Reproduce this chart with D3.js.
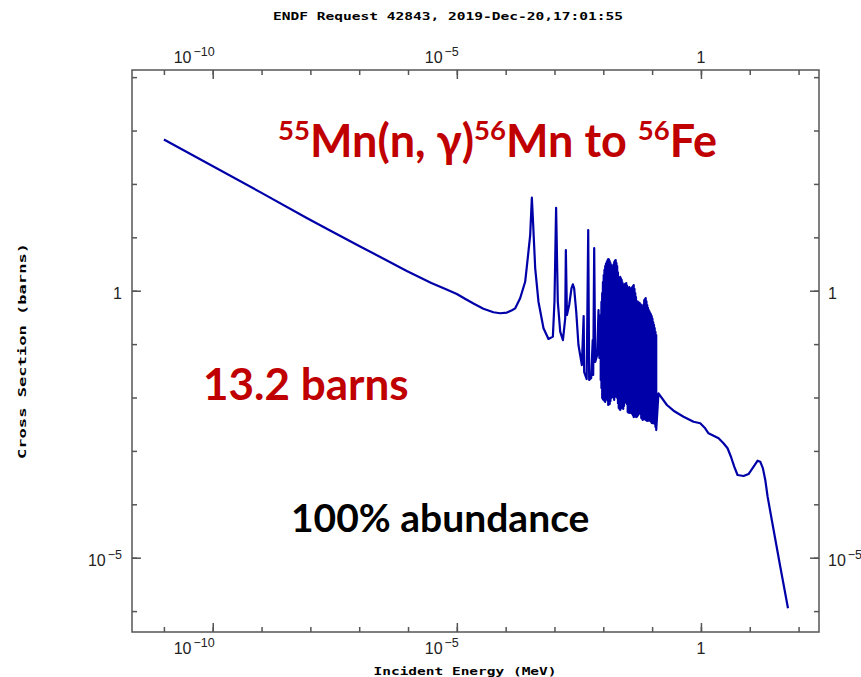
<!DOCTYPE html>
<html>
<head>
<meta charset="utf-8">
<script src="https://cdn.jsdelivr.net/npm/d3@7"></script>
<style>
  body { margin: 0; background: #fff; }
</style>
</head>
<body>
<svg id="chart" width="861" height="677"></svg>
<script>
// 55Mn(n,g) capture cross section, ENDF style plot
// energies in MeV, cross sections in barns

// thermal 1/v part + the first few isolated resonances
var lowEnergyXS = [
  [1.0e-11, 680], [1.0e-9, 68], [8.43e-9, 23.0], [2.53e-8, 13.4], [1.0e-7, 6.9],
  [9.44e-7, 2.35], [3.0e-6, 1.40], [6.0e-6, 1.07], [1.0e-5, 0.87], [1.5e-5, 0.70],
  [2.19e-5, 0.575], [3.5e-5, 0.46], [5.62e-5, 0.395], [7.7e-5, 0.378],
  [1.06e-4, 0.39], [1.35e-4, 0.43], [1.57e-4, 0.468], [1.98e-4, 0.721], [2.51e-4, 1.47],
  [2.93e-4, 5.37], [3.18e-4, 11.0], [3.44e-4, 55.2], [3.61e-4, 22.7],
  [4.03e-4, 2.63], [4.70e-4, 0.622], [5.96e-4, 0.198], [7.54e-4, 0.125],
  [9.27e-4, 0.138], [1.0e-3, 0.622], [1.08e-3, 35.8], [1.17e-3, 0.622],
  [1.31e-3, 0.171], [1.49e-3, 0.119], [1.66e-3, 0.304], [1.71e-3, 5.78],
  [1.80e-3, 0.351], [2.00e-3, 0.540], [2.23e-3, 1.11], [2.38e-3, 1.32],
  [2.53e-3, 1.11], [2.79e-3, 0.404], [3.10e-3, 0.0962], [3.64e-3, 0.0406],
  [3.96e-3, 0.336], [4.06e-3, 0.030], [4.57e-3, 0.0222], [4.91e-3, 13.7],
  [5.14e-3, 0.0213], [5.65e-3, 0.0232], [6.07e-3, 0.119], [6.21e-3, 0.0264],
  [6.51e-3, 6.31], [6.83e-3, 0.0462], [7.50e-3, 0.0625], [7.98e-3, 0.435],
  [8.32e-3, 0.0549]
];

// dense resonance forest: [energy, peak top, valley bottom]
var forestPeaks = [
  [8.85e-3, 0.351, 0.0213], [9.16e-3, 0.62, 0.0150], [9.49e-3, 0.906, 0.0098],
  [9.83e-3, 1.45, 0.0092], [1.019e-2, 1.97, 0.00898], [1.056e-2, 2.45, 0.0086],
  [1.094e-2, 2.90, 0.00824], [1.133e-2, 3.20, 0.0095], [1.174e-2, 3.45, 0.0111],
  [1.216e-2, 3.70, 0.0089], [1.260e-2, 3.92, 0.00724], [1.305e-2, 3.85, 0.0074],
  [1.352e-2, 3.60, 0.00755], [1.401e-2, 3.30, 0.0085], [1.451e-2, 3.03, 0.0098],
  [1.504e-2, 2.80, 0.0104], [1.558e-2, 2.66, 0.0111], [1.614e-2, 3.10, 0.0099],
  [1.672e-2, 3.45, 0.00898], [1.732e-2, 3.65, 0.0102], [1.795e-2, 3.76, 0.0121],
  [1.859e-2, 3.30, 0.0110], [1.926e-2, 2.90, 0.0098], [1.997e-2, 2.20, 0.0078],
  [2.07e-2, 1.73, 0.00636], [2.144e-2, 1.76, 0.0061], [2.22e-2, 1.81, 0.00583],
  [2.299e-2, 1.70, 0.0062], [2.38e-2, 1.59, 0.00664], [2.468e-2, 1.42, 0.0064],
  [2.56e-2, 1.28, 0.00609], [2.653e-2, 1.30, 0.0069], [2.75e-2, 1.33, 0.00789],
  [2.848e-2, 1.36, 0.0090], [2.95e-2, 1.39, 0.0102], [3.053e-2, 1.25, 0.0075],
  [3.16e-2, 1.12, 0.00535], [3.278e-2, 1.14, 0.0052], [3.40e-2, 1.17, 0.00513],
  [3.518e-2, 1.12, 0.0052], [3.64e-2, 1.08, 0.00535], [3.773e-2, 1.12, 0.0051],
  [3.91e-2, 1.17, 0.00491], [4.052e-2, 1.22, 0.0046], [4.20e-2, 1.28, 0.00431],
  [4.352e-2, 1.08, 0.0044], [4.51e-2, 0.906, 0.00450], [4.672e-2, 0.76, 0.0044],
  [4.84e-2, 0.641, 0.00431], [5.012e-2, 0.63, 0.0045], [5.19e-2, 0.614, 0.00470],
  [5.377e-2, 0.60, 0.0052], [5.57e-2, 0.588, 0.00583], [5.771e-2, 0.56, 0.0049],
  [5.98e-2, 0.540, 0.00413], [6.196e-2, 0.48, 0.0040], [6.42e-2, 0.435, 0.00379],
  [6.651e-2, 0.55, 0.0039], [6.89e-2, 0.670, 0.00396], [7.136e-2, 0.70, 0.0039],
  [7.39e-2, 0.730, 0.00379], [7.660e-2, 0.63, 0.0037], [7.94e-2, 0.540, 0.00363],
  [8.225e-2, 0.48, 0.0037], [8.52e-2, 0.435, 0.00379], [8.825e-2, 0.41, 0.0037],
  [9.14e-2, 0.382, 0.00363], [9.469e-2, 0.36, 0.0035], [9.81e-2, 0.336, 0.00333],
  [0.1016, 0.30, 0.0033], [0.1053, 0.259, 0.00333], [0.1091, 0.23, 0.0033],
  [0.1130, 0.200, 0.00319], [0.1171, 0.17, 0.0028], [0.1213, 0.148, 0.00246]
];

// unresolved / fast region
var highEnergyXS = [
  [0.135, 0.0120], [0.201, 0.00724], [0.275, 0.00566], [0.440, 0.00437],
  [0.705, 0.00352], [0.968, 0.00329], [1.22, 0.00265], [1.43, 0.00214],
  [2.30, 0.00172], [2.90, 0.00139], [3.51, 0.00112], [4.12, 7.78e-4],
  [4.81, 5.06e-4], [5.62, 3.54e-4], [7.47, 3.39e-4], [9.44, 3.69e-4],
  [12.0, 5.06e-4], [14.5, 6.55e-4], [16.4, 6.28e-4], [18.6, 4.71e-4],
  [20.8, 2.85e-4], [23.2, 1.39e-4], [30.8, 3.30e-5], [42.2, 6.78e-6],
  [60.7, 1.13e-6]
];

var xDecades = [1e-11, 1e-10, 1e-9, 1e-8, 1e-7, 1e-6, 1e-5, 1e-4, 1e-3, 1e-2, 1e-1, 1, 10, 100];
var xMajor = [1e-10, 1e-5, 1];
var yDecades = [1e-6, 1e-5, 1e-4, 1e-3, 1e-2, 1e-1, 1, 10, 100, 1e3, 1e4];
var yMajor = [1e-5, 1];

var titleText = "ENDF Request 42843, 2019-Dec-20,17:01:55";
var xLabel = "Incident Energy (MeV)";
var yLabel = "Cross Section (barns)";

// plot frame (don't call these top/left, window.top is read only)
var frameL = 132, frameR = 819, frameT = 70, frameB = 632;

var svg = d3.select("#chart");

var x = d3.scaleLog().domain([2.22e-12, 262]).range([frameL, frameR]);
var y = d3.scaleLog().domain([4.06e-7, 1.36e4]).range([frameB, frameT]);

// put the curve together
var curve = lowEnergyXS.slice();
forestPeaks.forEach(function(p) {
  curve.push([p[0], p[1]]);
  curve.push([p[0], p[2]]);
});
curve = curve.concat(highEnergyXS);

var line = d3.line()
  .x(function(d) { return x(d[0]); })
  .y(function(d) { return y(d[1]); });

svg.append("path")
  .datum(curve)
  .attr("d", line)
  .attr("fill", "none")
  .attr("stroke", "#0000a8")
  .attr("stroke-width", 2.2)
  .attr("stroke-linejoin", "round");

// frame
svg.append("rect")
  .attr("x", frameL).attr("y", frameT)
  .attr("width", frameR - frameL).attr("height", frameB - frameT)
  .attr("fill", "none")
  .attr("stroke", "#555")
  .attr("stroke-width", 1.5);

// ticks point inward on all 4 sides
function tickGroup(axis, tx, ty) {
  var g = svg.append("g")
    .attr("transform", "translate(" + tx + "," + ty + ")")
    .call(axis);
  g.select(".domain").remove();
  g.selectAll("line").attr("stroke", "#555").attr("stroke-width", 1.5);
  g.selectAll("text").remove();
  return g;
}
tickGroup(d3.axisTop(x).tickValues(xDecades).tickSize(5), 0, frameB);
tickGroup(d3.axisTop(x).tickValues(xMajor).tickSize(9), 0, frameB);
tickGroup(d3.axisBottom(x).tickValues(xDecades).tickSize(5), 0, frameT);
tickGroup(d3.axisBottom(x).tickValues(xMajor).tickSize(9), 0, frameT);
tickGroup(d3.axisRight(y).tickValues(yDecades).tickSize(5), frameL, 0);
tickGroup(d3.axisRight(y).tickValues(yMajor).tickSize(9), frameL, 0);
tickGroup(d3.axisLeft(y).tickValues(yDecades).tickSize(5), frameR, 0);
tickGroup(d3.axisLeft(y).tickValues(yMajor).tickSize(9), frameR, 0);

// "10" with superscript exponent, "1" plain
function powLabel(sel) {
  sel.each(function(v) {
    var t = d3.select(this);
    var e = Math.round(Math.log10(v));
    if (e === 0) { t.text("1"); return; }
    t.append("tspan").text("10");
    t.append("tspan").attr("dx", 2).attr("dy", -7)
      .attr("font-size", 12.5).text("\u2212" + Math.abs(e));
  });
}

function xLabels(yy) {
  svg.append("g").selectAll("text")
    .data(xMajor).enter().append("text")
    .attr("x", function(d) { return d === 1 ? x(d) : x(d) + 2; })
    .attr("y", yy)
    .attr("text-anchor", function(d) { return d === 1 ? "middle" : "end"; })
    .attr("font-family", "Liberation Sans, Arial, sans-serif")
    .attr("font-size", 16)
    .attr("fill", "#222")
    .call(powLabel);
}
xLabels(frameB + 22);
xLabels(frameT - 7);

function yLabels(xx, anchor) {
  svg.append("g").selectAll("text")
    .data(yMajor).enter().append("text")
    .attr("x", xx)
    .attr("y", function(d) { return y(d) + 8; })
    .attr("text-anchor", anchor)
    .attr("font-family", "Liberation Sans, Arial, sans-serif")
    .attr("font-size", 16)
    .attr("fill", "#222")
    .call(powLabel);
}
yLabels(frameL - 10, "end");
yLabels(frameR + 9, "start");

// monospace captions
svg.append("text")
  .attr("x", 448).attr("y", 20)
  .attr("text-anchor", "middle")
  .attr("font-family", "DejaVu Sans Mono, monospace")
  .attr("font-weight", "bold")
  .attr("font-size", 11)
  .attr("textLength", 350).attr("lengthAdjust", "spacingAndGlyphs")
  .text(titleText);

svg.append("text")
  .attr("x", 465).attr("y", 675)
  .attr("text-anchor", "middle")
  .attr("font-family", "DejaVu Sans Mono, monospace")
  .attr("font-weight", "bold")
  .attr("font-size", 11)
  .attr("textLength", 183).attr("lengthAdjust", "spacingAndGlyphs")
  .text(xLabel);

svg.append("text")
  .attr("transform", "translate(26,351) rotate(-90)")
  .attr("text-anchor", "middle")
  .attr("font-family", "DejaVu Sans Mono, monospace")
  .attr("font-weight", "bold")
  .attr("font-size", 11)
  .attr("textLength", 216).attr("lengthAdjust", "spacingAndGlyphs")
  .text(yLabel);

// annotations
var red = "#c00000";
var reaction = svg.append("text")
  .attr("x", 278).attr("y", 157)
  .attr("font-family", "Lato, Open Sans, sans-serif")
  .attr("font-weight", "bold")
  .attr("font-size", 45)
  .attr("fill", red);
[["55", true], ["Mn(n, \u03b3)", false], ["56", true], ["Mn to ", false], ["56", true], ["Fe", false]]
  .forEach(function(p) {
    reaction.append("tspan")
      .attr("dy", p[1] ? -17 : 17)
      .attr("font-size", p[1] ? 27.5 : 45)
      .text(p[0]);
  });

svg.append("text")
  .attr("x", 203).attr("y", 400)
  .attr("font-family", "Lato, Open Sans, sans-serif")
  .attr("font-weight", "bold")
  .attr("font-size", 44)
  .attr("fill", red)
  .text("13.2 barns");

svg.append("text")
  .attr("x", 291).attr("y", 532)
  .attr("font-family", "Lato, Open Sans, sans-serif")
  .attr("font-weight", "bold")
  .attr("font-size", 39)
  .attr("fill", "#000")
  .text("100% abundance");
</script>
</body>
</html>
